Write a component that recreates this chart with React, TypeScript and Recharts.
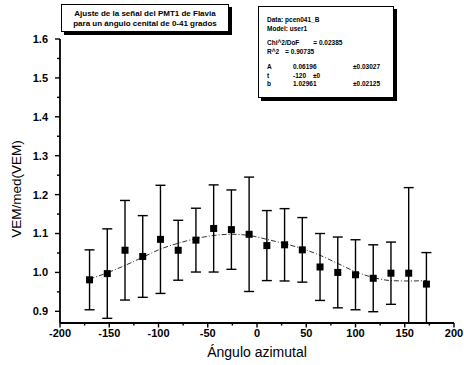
import { ComposedChart, Scatter, Line, XAxis, YAxis, ErrorBar } from "recharts";

// measured points (azimuth angle in degrees)
const angles = [-170, -152, -134, -116, -98, -80, -62, -44, -26, -8, 10, 28, 46, 64, 82, 100, 118, 136, 154, 172];
const vem = [0.981, 0.997, 1.057, 1.041, 1.085, 1.057, 1.083, 1.113, 1.11, 1.098, 1.069, 1.071, 1.058, 1.014, 1.0, 0.994, 0.985, 0.998, 0.998, 0.97];
// error bar extents as drawn (the last two are cut by the axis)
const errUp = [0.077, 0.115, 0.128, 0.105, 0.139, 0.077, 0.082, 0.112, 0.102, 0.147, 0.09, 0.093, 0.083, 0.086, 0.091, 0.09, 0.086, 0.08, 0.22, 0.081];
const errDown = [0.077, 0.115, 0.128, 0.105, 0.139, 0.077, 0.082, 0.112, 0.102, 0.147, 0.09, 0.093, 0.083, 0.086, 0.091, 0.09, 0.086, 0.08, 0.128, 0.1];

// fitted curve
const fitVem = [0.983, 0.999, 1.018, 1.039, 1.06, 1.075, 1.087, 1.095, 1.098, 1.095, 1.085, 1.074, 1.061, 1.044, 1.023, 1.002, 0.987, 0.979, 0.978, 0.979];

const xTicks = [-200, -150, -100, -50, 0, 50, 100, 150, 200];
const xMinor = [-175, -125, -75, -25, 25, 75, 125, 175];
const yTicks = [0.9, 1.0, 1.1, 1.2, 1.3, 1.4, 1.5, 1.6];
const yMinor = [0.95, 1.05, 1.15, 1.25, 1.35, 1.45, 1.55];

const points = angles.map((x, i) => ({ x, y: vem[i], err: [errDown[i], errUp[i]] }));
const fit = angles.map((x, i) => ({ x, y: fitVem[i] }));

const font = "'Liberation Sans', Arial, sans-serif";
const isMajor = (list: number[], v: number) => list.some((t) => Math.abs(t - v) < 1e-6);

const Square = (props: any) => {
  const { cx, cy } = props;
  if (cx == null || cy == null) return null;
  return <rect x={cx - 3.5} y={cy - 3.5} width={7} height={7} fill="#000" />;
};

// tickSize 4 + tickMargin 2 => axis line sits 6px above the label anchor
const XTick = (props: any) => {
  const { x, y, payload } = props;
  const axisY = y - 6;
  const major = isMajor(xTicks, payload.value);
  return (
    <g>
      <line x1={x} x2={x} y1={axisY} y2={axisY + (major ? 4.5 : 2.5)} stroke="#000" strokeWidth={1.4} />
      {major && (
        <text x={x} y={y} dy="0.71em" textAnchor="middle" fill="#000" fontSize={11} fontWeight={700} fontFamily={font}>
          {payload.value}
        </text>
      )}
    </g>
  );
};

// tickSize 5 + tickMargin 7 => axis line 12px right of the label anchor
const YTick = (props: any) => {
  const { x, y, payload } = props;
  const axisX = x + 12;
  const major = isMajor(yTicks, payload.value);
  return (
    <g>
      <line x1={axisX - (major ? 5 : 3)} x2={axisX} y1={y} y2={y} stroke="#000" strokeWidth={1.4} />
      {major && (
        <text x={x} y={y} dy="0.355em" textAnchor="end" fill="#000" fontSize={11} fontWeight={700} fontFamily={font}>
          {payload.value.toFixed(1)}
        </text>
      )}
    </g>
  );
};

const YLabel = () => (
  <text transform="translate(16,189) rotate(-90)" dy="0.35em" textAnchor="middle" fill="#000" fontSize={13.5} fontFamily={font}>
    VEM/med(VEM)
  </text>
);

export default function App() {
  return (
    <div style={{ position: "relative", width: 464, height: 365, background: "#fff", fontFamily: font }}>
      <style>{`body{margin:0}`}</style>
      <ComposedChart width={464} height={365} margin={{ top: 39, right: 10, left: 0, bottom: 0 }}>
        <XAxis
          type="number"
          dataKey="x"
          domain={[-200, 200]}
          ticks={[...xTicks, ...xMinor].sort((a, b) => a - b)}
          interval={0}
          height={42}
          tickSize={4}
          tickMargin={2}
          tickLine={false}
          axisLine={{ stroke: "#000", strokeWidth: 1.8 }}
          tick={XTick}
          label={{ value: "Ángulo azimutal", position: "insideBottom", offset: 8, fill: "#000", fontSize: 14, fontFamily: font }}
        />
        <YAxis
          type="number"
          domain={[0.87, 1.6]}
          ticks={[...yTicks, ...yMinor].sort((a, b) => a - b)}
          interval={0}
          width={60}
          allowDataOverflow
          tickSize={5}
          tickMargin={7}
          tickLine={false}
          axisLine={{ stroke: "#000", strokeWidth: 1.8 }}
          tick={YTick}
          label={{ content: YLabel }}
        />
        <Line
          data={fit}
          dataKey="y"
          type="monotone"
          stroke="#333"
          strokeWidth={1}
          strokeDasharray="5 2 1 2"
          dot={false}
          isAnimationActive={false}
        />
        <Scatter data={points} dataKey="y" shape={<Square />} isAnimationActive={false}>
          <ErrorBar dataKey="err" width={5} stroke="#000" strokeWidth={1.4} direction="y" />
        </Scatter>
      </ComposedChart>

      <div
        style={{
          position: "absolute", left: 61, top: 4, width: 168, height: 28,
          border: "1px solid #000", boxShadow: "3px 3px 0 #000", background: "#fff",
          fontSize: 8, fontWeight: 700, lineHeight: "10px", textAlign: "center", paddingTop: 4, boxSizing: "border-box",
        }}
      >
        Ajuste de la señal del PMT1 de Flavia
        <br />
        para un ángulo cenital de 0-41 grados
      </div>

      <div
        style={{
          position: "absolute", left: 258, top: 6, width: 136, height: 92,
          border: "1px solid #000", boxShadow: "3px 3px 0 #000", background: "#fff",
          fontSize: 6.5, fontWeight: 700, lineHeight: "8.5px", boxSizing: "border-box", padding: "9px 0 0 8px",
        }}
      >
        <div>Data: pcen041_B</div>
        <div>Model: user1</div>
        <div style={{ height: 6 }} />
        <div>Chi^2/DoF<span style={{ marginLeft: 14 }}>= 0.02385</span></div>
        <div>R^2<span style={{ marginLeft: 6 }}>= 0.90735</span></div>
        <div style={{ height: 7 }} />
        <div style={{ display: "flex" }}><span style={{ width: 26 }}>A</span><span style={{ width: 60 }}>0.06196</span><span>±0.03027</span></div>
        <div style={{ display: "flex" }}><span style={{ width: 26 }}>t</span><span style={{ width: 20 }}>-120</span><span>±0</span></div>
        <div style={{ display: "flex" }}><span style={{ width: 26 }}>b</span><span style={{ width: 60 }}>1.02961</span><span>±0.02125</span></div>
      </div>
    </div>
  );
}
